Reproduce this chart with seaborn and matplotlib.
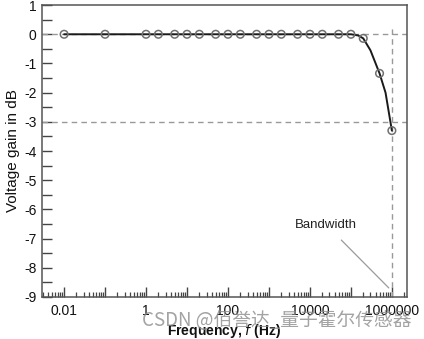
import numpy as np
import pandas as pd
import matplotlib
matplotlib.use("Agg")
import matplotlib.pyplot as plt
import seaborn as sns
from matplotlib.ticker import FixedLocator, NullFormatter, LogLocator

# ---- data ----
marker_freq = [0.01, 0.1, 1, 2, 5, 10, 20, 50, 100, 200, 500, 1000, 2000, 5000,
               1e4, 2e4, 5e4, 1e5, 2e5, 5e5, 1e6]
marker_gain = [0, 0, 0, 0, 0, 0, 0, 0, 0, 0, 0, 0, 0, 0,
               0, 0, 0, 0, -0.14, -1.34, -3.3]

curve_freq = [0.01, 0.1, 1, 10, 100, 1000, 1e4, 1e5, 1.5e5, 2e5, 3e5, 5e5, 7e5, 1e6]
curve_gain = [0, 0, 0, 0, 0, 0, 0, 0, -0.04, -0.14, -0.55, -1.34, -2.0, -3.3]

xtick_vals = [0.01, 1, 100, 10000, 1000000]
xtick_labels = ["0.01", "1", "100", "10000", "1000000"]
ytick_vals = [1, 0, -1, -2, -3, -4, -5, -6, -7, -8, -9]

bandwidth_freq = 1e6
cutoff_gain = -3

df_curve = pd.DataFrame({"f": curve_freq, "g": curve_gain})
df_mark = pd.DataFrame({"f": marker_freq, "g": marker_gain})

sns.set_style("white")
plt.rcParams["font.family"] = ["Liberation Sans", "DejaVu Sans"]

fig = plt.figure(figsize=(4.24, 3.39), dpi=100)
ax = fig.add_axes([0.099, 0.124, 0.861, 0.861])

ax.set_xscale("log")
ax.set_xlim(10 ** -2.54, 10 ** 6.37)
ax.set_ylim(-9, 1)

# reference dashed lines
ax.axhline(0, color="#999999", ls=(0, (4, 3)), lw=1.0, zorder=1)
ax.axhline(cutoff_gain, color="#999999", ls=(0, (4, 3)), lw=1.0, zorder=1)
ax.plot([bandwidth_freq, bandwidth_freq], [-9, 0.2], color="#999999",
        ls=(0, (4, 3)), lw=1.0, zorder=1)

sns.lineplot(data=df_curve, x="f", y="g", ax=ax, color="#1a1a1a", lw=1.4,
             zorder=3, legend=False)
sns.scatterplot(data=df_mark, x="f", y="g", ax=ax, marker="o", s=30,
                fc="none", ec="#707070", linewidth=1.1, zorder=4, legend=False)

# axes styling
for sp in ax.spines.values():
    sp.set_color("#555555")
    sp.set_linewidth(1.1)

ax.xaxis.set_minor_locator(LogLocator(base=10, subs=np.arange(2, 10), numticks=100))
ax.xaxis.set_minor_formatter(NullFormatter())
ax.set_xticks([10.0 ** k for k in range(-2, 7)])
ax.set_xticklabels([xtick_labels[xtick_vals.index(10.0 ** k)] if (k % 2 == 0) else ""
                    for k in range(-2, 7)])
ax.set_yticks(ytick_vals)
ax.set_yticklabels([str(v) for v in ytick_vals])
ax.yaxis.set_minor_locator(FixedLocator(np.arange(-8.5, 1, 1.0)))

ax.tick_params(axis="both", which="both", direction="in", color="#444444",
               labelsize=10, labelcolor="#111111")
ax.tick_params(axis="x", which="major", length=7, width=1.0, pad=5)
ax.tick_params(axis="x", which="minor", length=3.5, width=0.9)
ax.tick_params(axis="y", which="major", length=7, width=1.0, pad=4)
ax.tick_params(axis="y", which="minor", length=7, width=1.0)
ax.tick_params(bottom=True, left=True, top=False, right=False, which="both")

ax.set_xlabel("Frequency, $\\it{f}$ (Hz)", fontsize=10, fontweight="bold",
              color="#111111", labelpad=3)
ax.set_ylabel("Voltage gain in dB", fontsize=11, color="#111111", labelpad=3)

ax.annotate("Bandwidth", xy=(8.4e5, -8.69), xytext=(2.5e4, -6.53),
            ha="center", va="center", fontsize=9.5, color="#222222",
            arrowprops=dict(arrowstyle="-", color="#9a9a9a", lw=0.9,
                            shrinkA=6, shrinkB=0))

fig.text(0.97, 0.055, "CSDN @佰誉达_量子霍尔传感器", ha="right", va="center",
         fontsize=13.5, color="#8c8c8c", alpha=0.8,
         family=["Noto Sans CJK SC", "DejaVu Sans"])

fig.savefig("out.png", dpi=100)
